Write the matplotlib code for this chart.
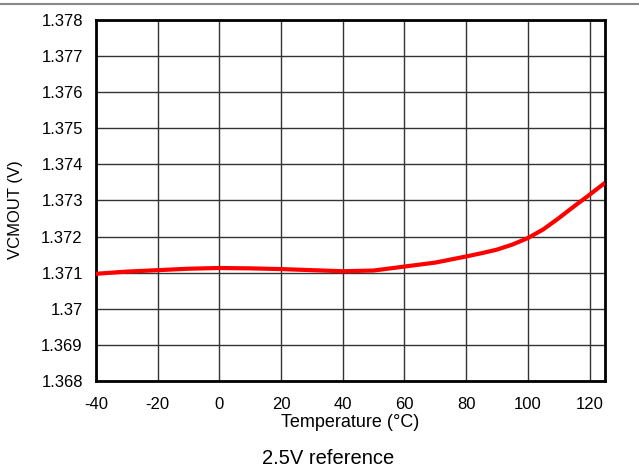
import matplotlib
matplotlib.use("Agg")
import matplotlib.pyplot as plt
from matplotlib.lines import Line2D

plt.rcParams['font.family'] = ['Liberation Sans', 'DejaVu Sans']
plt.rcParams['axes.unicode_minus'] = False

temperature = [-40, -30, -20, -10, 0, 10, 20, 30, 40, 50, 60, 70, 80, 85, 90, 95,
               100, 105, 110, 115, 120, 125]
vcmout = [1.37097, 1.37103, 1.37107, 1.37111, 1.37113, 1.37112, 1.37110, 1.37107, 1.37104,
          1.37106, 1.37117, 1.37128, 1.37145, 1.37154, 1.37164, 1.37178,
          1.37196, 1.37220, 1.37251, 1.37284, 1.37316, 1.37349]
x_ticks = [-40, -20, 0, 20, 40, 60, 80, 100, 120]
y_ticks = [1.368, 1.369, 1.37, 1.371, 1.372, 1.373, 1.374, 1.375, 1.376, 1.377, 1.378]
y_labels = ["1.368", "1.369", "1.37", "1.371", "1.372", "1.373", "1.374", "1.375", "1.376", "1.377", "1.378"]

fig = plt.figure(figsize=(6.39, 4.68), dpi=100)
ax = fig.add_axes([0.1502, 0.1859, 0.7966, 0.7714])

ax.plot(temperature, vcmout, color='#ff0000', lw=3, solid_joinstyle='round',
        solid_capstyle='butt', zorder=3)

ax.set_xlim(-40, 125)
ax.set_ylim(1.368, 1.378)
ax.set_xticks(x_ticks)
ax.set_yticks(y_ticks)
ax.set_yticklabels(y_labels)
ax.tick_params(length=0, labelsize=12)
ax.tick_params(axis='x', pad=11.5)
ax.tick_params(axis='y', pad=9.5)
ax.grid(True, color='#333333', lw=1)
ax.set_axisbelow(True)
for s in ax.spines.values():
    s.set_linewidth(2)
    s.set_color('black')

ax.set_ylabel('VCMOUT (V)', fontsize=12)
ax.yaxis.set_label_coords(-0.143, 0.475)
fig.text(0.5485, 0.0876, 'Temperature (°C)', ha='center', va='baseline', fontsize=13)
fig.text(0.513, 0.0085, '2.5V reference', ha='center', va='baseline', fontsize=14.5)

fig.add_artist(Line2D([0, 1], [0.991, 0.991], color='#888888', lw=1.5, transform=fig.transFigure))

fig.savefig('out.png', dpi=100)
